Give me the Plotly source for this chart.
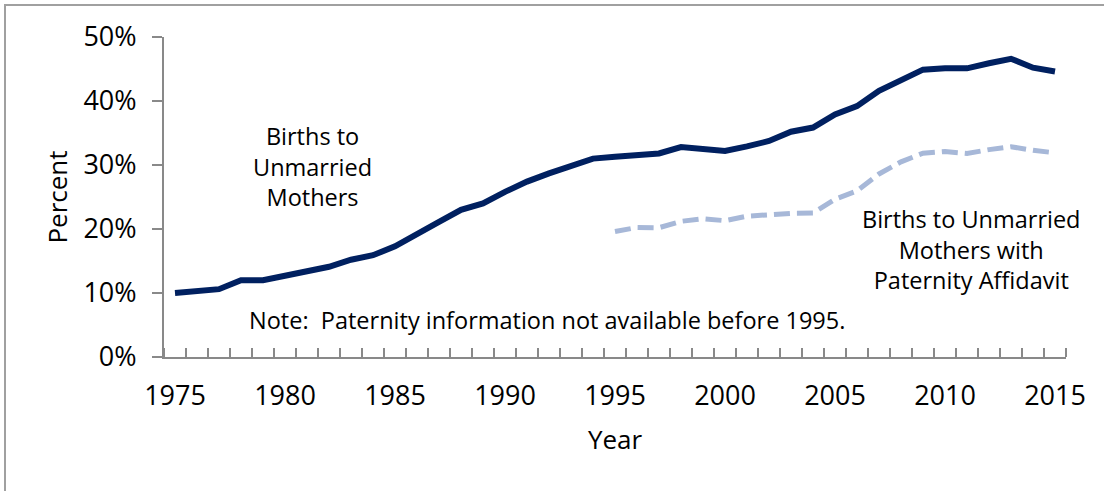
import plotly.graph_objects as go

years = list(range(1975, 2016))
unmarried = [10.0, 10.3, 10.6, 12.0, 12.0, 12.7, 13.3, 14.1, 15.2, 15.9,
             17.3, 19.1, 21.1, 23.0, 24.0, 25.8, 27.4, 28.7, 29.9, 31.0,
             31.3, 31.55, 31.8, 32.8, 32.6, 32.2, 32.9, 33.75, 35.2, 35.85,
             37.9, 39.2, 41.6, 43.2, 44.9, 45.1, 45.1, 45.9, 46.6, 45.2, 44.6]
pat_years = list(range(1995, 2016))
paternity = [19.6, 20.25, 20.2, 21.2, 21.6, 21.3, 22.0, 22.3, 22.45, 22.5,
             24.65, 25.95, 28.6, 30.5, 31.85, 32.1, 31.8, 32.4, 32.85, 32.3, 31.9]
x_tick_vals = [1975, 1980, 1985, 1990, 1995, 2000, 2005, 2010, 2015]
y_tick_vals = [0, 10, 20, 30, 40, 50]

FONT = "Open Sans"
AXIS = "#898989"

fig = go.Figure()
fig.add_trace(go.Scatter(x=years, y=[v / 100 for v in unmarried], mode="lines",
                         line=dict(color="#002060", width=6), showlegend=False,
                         hoverinfo="skip"))
fig.add_trace(go.Scatter(x=pat_years, y=[v / 100 for v in paternity], mode="lines",
                         line=dict(color="#A7B8D8", width=5, dash="16px,7px"),
                         showlegend=False, hoverinfo="skip"))

fig.update_layout(
    width=1104, height=491,
    margin=dict(l=164, r=38, t=37, b=134, autoexpand=False),
    paper_bgcolor="white", plot_bgcolor="white",
    font=dict(family=FONT, color="black", size=25),
    xaxis=dict(range=[1974.5, 2015.5], tickvals=x_tick_vals,
               ticktext=[str(v) for v in x_tick_vals],
               ticks="", showgrid=False, zeroline=False, automargin=False,
               showline=True, linecolor=AXIS, linewidth=2,
               tickfont=dict(size=27), ticklabelstandoff=14,
               minor=dict(tick0=1974.5, dtick=1, ticks="inside", ticklen=9,
                          tickcolor=AXIS, tickwidth=2, showgrid=False),
               title=dict(text="Year", font=dict(size=26), standoff=18)),
    yaxis=dict(range=[0, 0.5], tickvals=[v / 100 for v in y_tick_vals],
               ticktext=[f"{v}%" for v in y_tick_vals],
               ticks="outside", ticklen=10, tickcolor=AXIS, tickwidth=2,
               showgrid=False, zeroline=False, automargin=False,
               showline=True, linecolor=AXIS, linewidth=2,
               tickfont=dict(size=27), ticklabelstandoff=10,
               title=dict(text="Percent", font=dict(size=26), standoff=8)),
    annotations=[
        dict(x=1981.27, y=0.297, xref="x", yref="y",
             text="Births to<br>Unmarried<br>Mothers", showarrow=False,
             font=dict(size=23.5), align="center"),
        dict(x=2011.2, y=0.168, xref="x", yref="y",
             text="Births to Unmarried<br>Mothers with<br>Paternity Affidavit",
             showarrow=False, font=dict(size=23.5), align="center"),
        dict(x=1991.9, y=0.058, xref="x", yref="y",
             text="Note:  Paternity information not available before 1995.",
             showarrow=False, font=dict(size=23.5), align="center"),
    ],
    shapes=[dict(type="rect", xref="paper", yref="paper",
                 x0=-159 / 902, x1=1.1, y0=-0.6, y1=1 + 32 / 320,
                 line=dict(color="#A0A0A0", width=2), layer="below")],
)

fig.write_html("out.html", config={"displayModeBar": False},
               post_script="document.body.style.margin='0';")
